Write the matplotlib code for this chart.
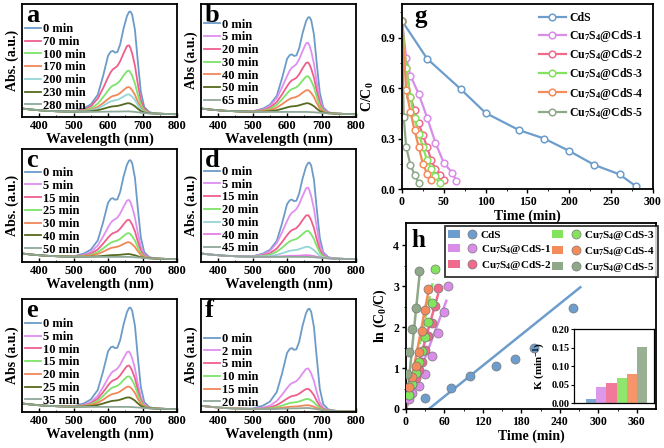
import numpy as np
import matplotlib
matplotlib.use('Agg')
import matplotlib.pyplot as plt
from matplotlib.lines import Line2D
from matplotlib.patches import Patch
from matplotlib.legend_handler import HandlerTuple

plt.rcParams['font.family'] = 'Liberation Serif'
plt.rcParams['font.weight'] = 'bold'
plt.rcParams['axes.labelweight'] = 'bold'
plt.rcParams['mathtext.fontset'] = 'custom'
plt.rcParams['mathtext.rm'] = 'Liberation Serif:bold'
plt.rcParams['mathtext.it'] = 'Liberation Serif:bold:italic'
plt.rcParams['mathtext.bf'] = 'Liberation Serif:bold'
plt.rcParams['axes.linewidth'] = 1.3

# colours
blue = '#6c9bc8'
violet = '#e08ff0'
pink = '#ef5f8e'
green = '#7ee36b'
orange = '#f0885a'
cyan = '#96d6d8'
olive = '#556b1f'
gray = '#8fa898'
magenta = '#e37ee6'

# UV-vis spectra (wavelength grid, baseline, band shapes)
wl = [350, 380, 420, 460, 500, 530, 550, 570, 585, 600, 608, 614, 620, 627,
      635, 645, 655, 661, 665, 670, 678, 686, 695, 705, 720, 740, 770, 800]
base = [0.075, 0.065, 0.055, 0.05, 0.046, 0.045, 0.045, 0.045, 0.045, 0.045,
        0.045, 0.045, 0.045, 0.045, 0.045, 0.045, 0.045, 0.045, 0.044, 0.043,
        0.042, 0.04, 0.038, 0.035, 0.032, 0.03, 0.027, 0.025]
fresh = [0, 0, 0, 0, 0.005, 0.035, 0.075, 0.17, 0.35, 0.56, 0.6, 0.607, 0.59,
         0.595, 0.67, 0.83, 0.955, 0.995, 1.0, 0.97, 0.82, 0.52, 0.21, 0.06,
         0.012, 0, 0, 0]
decayed = [0, 0, 0, 0, 0.005, 0.035, 0.085, 0.2, 0.35, 0.52, 0.6, 0.64, 0.66,
           0.69, 0.76, 0.88, 0.99, 1.0, 0.96, 0.88, 0.7, 0.44, 0.19, 0.06,
           0.012, 0, 0, 0]

labels_a = ['0 min', '70 min', '100 min', '170 min', '200 min', '230 min', '280 min']
peaks_a = [0.89, 0.59, 0.365, 0.22, 0.155, 0.077, 0.005]
colors_a = [blue, pink, green, orange, cyan, olive, gray]

labels_b = ['0 min', '5 min', '20 min', '30 min', '40 min', '50 min', '65 min']
peaks_b = [0.84, 0.613, 0.438, 0.316, 0.193, 0.077, 0.0]
colors_b = [blue, violet, pink, green, orange, olive, gray]

labels_c = ['0 min', '5 min', '15 min', '25 min', '30 min', '40 min', '50 min']
peaks_c = [0.857, 0.504, 0.328, 0.21, 0.13, 0.025, 0.0]
colors_c = [blue, violet, pink, green, orange, olive, gray]

labels_d = ['0 min', '5 min', '15 min', '20 min', '30 min', '40 min', '45 min']
peaks_d = [0.836, 0.613, 0.37, 0.23, 0.09, 0.015, 0.0]
colors_d = [blue, violet, pink, green, cyan, magenta, gray]

labels_e = ['0 min', '5 min', '10 min', '15 min', '20 min', '25 min', '35 min']
peaks_e = [0.88, 0.49, 0.366, 0.27, 0.18, 0.084, 0.0]
colors_e = [blue, violet, pink, green, orange, olive, gray]

labels_f = ['0 min', '2 min', '5 min', '10 min', '15 min', '20 min']
peaks_f = [0.89, 0.36, 0.18, 0.09, 0.035, 0.01]
colors_f = [blue, violet, pink, green, orange, gray]

# kinetics
samples = ['CdS', 'Cu$_7$S$_4$@CdS-1', 'Cu$_7$S$_4$@CdS-2',
           'Cu$_7$S$_4$@CdS-3', 'Cu$_7$S$_4$@CdS-4', 'Cu$_7$S$_4$@CdS-5']
kin_colors = ['#6d9dcc', '#d98de8', '#f06a8e', '#84e35c', '#f58a5a', '#8fa88a']

g_t = [[0, 30, 70, 100, 140, 170, 200, 230, 260, 280],
       [0, 5, 10, 20, 30, 40, 50, 60, 65],
       [0, 5, 10, 15, 20, 25, 30, 35, 40, 45, 50],
       [0, 5, 10, 15, 20, 25, 30, 35, 40, 45],
       [0, 5, 10, 15, 20, 25, 30, 35],
       [0, 2, 5, 10, 15, 20]]
g_c = [[1.0, 0.775, 0.595, 0.452, 0.35, 0.30, 0.226, 0.143, 0.087, 0.015],
       [1.0, 0.78, 0.675, 0.565, 0.425, 0.275, 0.155, 0.097, 0.05],
       [1.0, 0.72, 0.55, 0.47, 0.39, 0.32, 0.25, 0.17, 0.12, 0.085, 0.055],
       [1.0, 0.72, 0.55, 0.42, 0.33, 0.25, 0.17, 0.12, 0.075, 0.033],
       [1.0, 0.59, 0.46, 0.35, 0.25, 0.15, 0.09, 0.055],
       [1.0, 0.43, 0.25, 0.145, 0.085, 0.035]]

h_t = [[30, 70, 100, 140, 170, 200, 260],
       [5, 10, 20, 30, 40, 50, 60, 65],
       [5, 10, 15, 20, 25, 30, 35, 40, 45, 50],
       [5, 10, 15, 20, 25, 30, 35, 40, 45],
       [5, 10, 15, 20, 25, 30, 35],
       [2, 5, 10, 15, 20]]
h_y = [[0.27, 0.52, 0.80, 1.06, 1.22, 1.50, 2.46],
       [0.25, 0.38, 0.57, 0.86, 1.29, 1.87, 2.37, 3.0],
       [0.33, 0.6, 0.76, 0.95, 1.15, 1.45, 1.78, 2.1, 2.52, 2.95],
       [0.33, 0.6, 0.87, 1.14, 1.43, 1.77, 2.12, 2.6, 3.42],
       [0.53, 0.78, 1.05, 1.4, 1.9, 2.43, 2.93],
       [0.85, 1.4, 1.95, 2.48, 3.38]]
fit_k = [0.0126, 0.042, 0.056, 0.074, 0.082, 0.155]
fit_b = [-0.45, 0, 0, 0, 0, 0]
fit_t0 = [36, 0, 0, 0, 0, 0]
fit_t1 = [272, 63, 50, 43, 35, 22]
k_bar = [0.012, 0.042, 0.054, 0.068, 0.079, 0.151]

fig = plt.figure(figsize=(6.64, 4.48), dpi=100)


def spectra(rect, labels, peaks, colors, letter, ylab, shift, leg_y):
    ax = fig.add_axes(rect)
    for i in range(len(labels)):
        shape = fresh if i == 0 else decayed
        y = np.array(base) + shift + peaks[i] * np.array(shape)
        ax.plot(wl, y, color=colors[i], lw=1.3, label=labels[i])
    ax.set_xlim(350, 800)
    ax.set_ylim(0, 1.0)
    ax.set_xticks([400, 500, 600, 700, 800])
    ax.set_xticks([450, 550, 650, 750], minor=True)
    ax.set_yticks([])
    ax.tick_params(axis='x', direction='in', length=3, width=1, labelsize=9, pad=2.5)
    ax.tick_params(axis='x', which='minor', direction='in', length=1.5)
    ax.set_xlabel('Wavelength (nm)', fontsize=10.5, labelpad=0)
    ax.set_ylabel(ylab, fontsize=10, labelpad=2)
    ax.text(0.025, 1.0, letter, transform=ax.transAxes, fontsize=19,
            fontweight='bold', va='top', ha='left')
    ax.legend(loc='upper left', bbox_to_anchor=(0.02, leg_y), frameon=False,
              fontsize=9, handlelength=1.3, handletextpad=0.15,
              labelspacing=0.06, borderaxespad=0, borderpad=0)
    return ax


w_s, h_s = 0.2334, 0.2522
spectra([0.0331, 0.7388, w_s, h_s], labels_a, peaks_a, colors_a, 'a',
        'Abs. (a.u.)', 0, 0.83)
spectra([0.3027, 0.7388, w_s, h_s], labels_b, peaks_b, colors_b, 'b',
        'Abs (a.u.)', 0, 0.87)
spectra([0.0331, 0.4152, w_s, h_s], labels_c, peaks_c, colors_c, 'c',
        'Abs. (a.u.)', 0, 0.84)
spectra([0.3027, 0.4152, w_s, h_s], labels_d, peaks_d, colors_d, 'd',
        'Abs. (a.u.)', 0, 0.85)
spectra([0.0331, 0.0804, w_s, h_s], labels_e, peaks_e, colors_e, 'e',
        'Abs (a.u.)', 0, 0.83)
spectra([0.3027, 0.0804, w_s, h_s], labels_f, peaks_f, colors_f, 'f',
        'Abs (a.u.)', -0.02, 0.70)

# panel g
axg = fig.add_axes([0.6054, 0.5781, 0.378, 0.4129])
for i in range(6):
    axg.plot(g_t[i], g_c[i], '-o', color=kin_colors[i], lw=1.6, ms=4.8,
             mfc='white', mew=1.1, label=samples[i])
axg.set_xlim(0, 300)
axg.set_ylim(0, 1.1)
axg.set_xticks([0, 50, 100, 150, 200, 250, 300])
axg.set_xticks([25, 75, 125, 175, 225, 275], minor=True)
axg.set_yticks([0.0, 0.3, 0.6, 0.9])
axg.set_yticks([0.15, 0.45, 0.75, 1.05], minor=True)
axg.set_yticklabels(['0.0', '0.3', '0.6', '0.9'])
axg.tick_params(labelsize=8.5, length=3, width=1, pad=2)
axg.tick_params(which='minor', length=1.5)
axg.set_xlabel('Time (min)', fontsize=10, labelpad=1)
axg.set_ylabel('C/C$_0$', fontsize=10, labelpad=3)
axg.text(0.05, 0.995, 'g', transform=axg.transAxes, fontsize=18,
         fontweight='bold', va='top', ha='left')
axg.legend(loc='upper left', bbox_to_anchor=(0.545, 0.955), frameon=False,
           fontsize=8.5, handlelength=2.3, handletextpad=0.3,
           labelspacing=0.28, borderaxespad=0, borderpad=0)

# panel h
axh = fig.add_axes([0.6114, 0.0871, 0.3765, 0.4152])
handles = []
for i in range(6):
    tt = np.array([fit_t0[i], fit_t1[i]])
    axh.plot(tt, fit_k[i] * tt + fit_b[i], color=kin_colors[i], lw=1.8,
             ls='--' if i == 3 else '-', zorder=2)
for i in range(6):
    axh.plot(h_t[i], h_y[i], 'o', color=kin_colors[i], ms=6.5,
             mec='#777777', mew=0.5, zorder=3)
    handles.append((Patch(facecolor=kin_colors[i], edgecolor='none'),
                    Line2D([], [], marker='o', ls='', color=kin_colors[i],
                           ms=6.5, mec='#777777', mew=0.5)))
axh.set_xlim(0, 390)
axh.set_ylim(0, 4.55)
axh.set_xticks([0, 60, 120, 180, 240, 300, 360])
axh.set_xticks([30, 90, 150, 210, 270, 330], minor=True)
axh.set_yticks([0, 1, 2, 3, 4])
axh.set_yticks([0.5, 1.5, 2.5, 3.5], minor=True)
axh.tick_params(labelsize=8.5, length=3, width=1, pad=2)
axh.tick_params(which='minor', length=1.5)
axh.set_xlabel('Time (min)', fontsize=10, labelpad=1)
axh.set_ylabel('ln (C$_0$/C)', fontsize=10, labelpad=3)
axh.text(0.02, 0.965, 'h', transform=axh.transAxes, fontsize=18,
         fontweight='bold', va='top', ha='left')
leg = axh.legend(handles, samples, handler_map={tuple: HandlerTuple(ndivide=None, pad=0.6)},
                 ncol=2, loc='upper right', bbox_to_anchor=(1.01, 0.985),
                 fontsize=8, handlelength=2.6, handletextpad=0.3,
                 columnspacing=0.1, labelspacing=0.25, borderaxespad=0,
                 borderpad=0.3, fancybox=False, edgecolor='black')
leg.get_frame().set_linewidth(1.3)

# inset: rate constants
ins = fig.add_axes([0.8645, 0.1004, 0.1205, 0.1652])
ins.bar(range(6), k_bar, width=1.0, color=kin_colors, alpha=0.9)
ins.set_xlim(-1.64, 6.15)
ins.set_ylim(0, 0.2)
ins.set_xticks([])
ins.set_yticks([0, 0.05, 0.10, 0.15, 0.20])
ins.set_yticklabels(['0.00', '0.05', '0.10', '0.15', '0.20'])
ins.tick_params(labelsize=7.5, length=2, width=0.8, pad=1)
for s in ins.spines.values():
    s.set_linewidth(0.9)
ins.set_ylabel('K (min$^{-1}$)', fontsize=8, labelpad=3)

fig.savefig('out.png', dpi=100)
